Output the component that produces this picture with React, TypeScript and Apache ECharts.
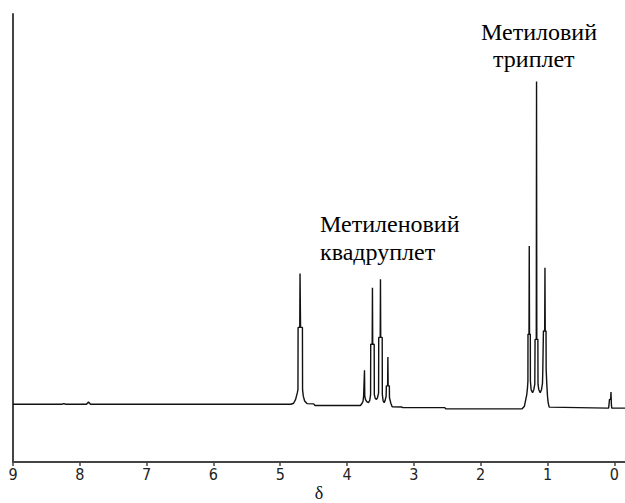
import React, { useEffect, useRef } from "react";
import * as echarts from "echarts";

// chemical shift (ppm) of each traced point of the spectrum, left to right
const delta = [
  9.0, 8.27, 8.24, 8.21, 7.9, 7.87, 7.84, 4.84,
  4.8, 4.77, 4.745, 4.735, 4.733, 4.708, 4.704, 4.7, 4.696, 4.668, 4.666, 4.655, 4.635, 4.6, 4.5, 4.48,
  3.82, 3.8, 3.775, 3.76, 3.752, 3.743, 3.739, 3.735, 3.725, 3.705, 3.68, 3.66, 3.648, 3.646, 3.624, 3.62,
  3.616, 3.594, 3.592, 3.578, 3.56, 3.545, 3.528, 3.526, 3.504, 3.5, 3.496, 3.474, 3.472, 3.46, 3.445,
  3.43, 3.415, 3.412, 3.393, 3.389, 3.385, 3.367, 3.365, 3.345, 3.325,
  3.18, 3.17, 2.54, 2.52, 1.4,
  1.38, 1.345, 1.325, 1.31, 1.3, 1.293, 1.292, 1.277, 1.273, 1.269, 1.257, 1.256, 1.245, 1.224, 1.205,
  1.19, 1.186, 1.168, 1.164, 1.16, 1.144, 1.142, 1.13, 1.109, 1.09, 1.075, 1.07, 1.062, 1.061, 1.042,
  1.038, 1.034, 1.022, 1.02, 1.012, 1.01, 1.0, 0.99, 0.975,
  0.1, 0.085, 0.078, 0.072, 0.054, 0.05, 0.046, 0.044, 0.038, -0.16,
];

// relative intensity at each traced point (tallest line = 100)
const intensity = [
  0, 0, 0.2, 0, 0, 0.7, 0, 0,
  0.3, 1.5, 3.5, 4.5, 23.8, 23.8, 40.5, 40.5, 23.8, 23.8, 4.5, 2.5, 1.0, 0.2, 0.1, -0.4,
  -0.4, -0.4, 0.3, 1.0, 2.6, 2.6, 10.5, 2.6, 1.5, 0.8, 0.5, 1.2, 3.0, 18.6, 18.6, 36.1,
  18.6, 18.6, 3.0, 1.8, 1.5, 2.0, 3.5, 20.7, 20.7, 38.7, 20.7, 20.7, 3.0, 1.0, 0.5,
  1.2, 2.5, 5.7, 5.7, 14.6, 5.7, 5.7, 2.0, 0.3, -0.8,
  -0.84, -1.05, -1.05, -1.45, -1.45,
  -1.4, -0.6, 1.5, 3.0, 5.0, 7.2, 21.7, 21.7, 49.0, 21.7, 21.7, 7.2, 4.5, 3.6, 4.5,
  6.2, 20.1, 20.1, 100, 20.1, 20.1, 6.2, 4.5, 3.6, 4.5, 6.5, 10.8, 10.8, 22.7, 22.7,
  42.3, 22.7, 22.7, 10.8, 10.8, 6.0, 2.5, 0.5, -0.9,
  -1.2, -1.2, 0.2, 1.5, 1.5, 3.8, 1.5, 0.0, -1.2, -1.2,
];

const tickValues = [9, 8, 7, 6, 5, 4, 3, 2, 1, 0];
const axisName = "δ";

const quartetLabel = ["Метиленовий", "квадруплет"];
const tripletLabel = ["Метиловий", "триплет"];

export default function App() {
  const ref = useRef<HTMLDivElement>(null);

  useEffect(() => {
    if (!ref.current) return;
    const chart = echarts.init(ref.current, undefined, { renderer: "svg", width: 625, height: 503 });
    const data = delta.map((d, i) => [d, intensity[i]]);
    const serif = '"Liberation Serif", "Times New Roman", serif';
    const textStyle = { font: `24px ${serif}`, fill: "#000", verticalAlign: "middle" };
    chart.setOption({
      animation: false,
      backgroundColor: "#fff",
      grid: {
        left: 13,
        right: 0,
        top: 14,
        bottom: 41,
        containLabel: false,
        outerBoundsMode: "none",
      },
      xAxis: {
        type: "value",
        inverse: true,
        min: -0.16,
        max: 9,
        name: axisName,
        nameLocation: "middle",
        nameGap: 24,
        nameMoveOverlap: false,
        nameTextStyle: { fontFamily: serif, fontSize: 18, lineHeight: 14, color: "#111" },
        axisLine: { onZero: false, lineStyle: { color: "#444", width: 2 } },
        axisTick: {
          show: true,
          customValues: tickValues,
          length: 4,
          lineStyle: { color: "#444", width: 1.5 },
        },
        axisLabel: {
          customValues: tickValues,
          margin: 4,
          fontFamily: '"Liberation Sans Narrow", "Arial Narrow", "DejaVu Sans Condensed", sans-serif',
          fontSize: 16,
          color: "#222",
        },
        splitLine: { show: false },
      },
      yAxis: {
        type: "value",
        min: -17.9,
        max: 120.9,
        axisLine: { show: true, onZero: false, lineStyle: { color: "#444", width: 2 } },
        axisTick: { show: false },
        axisLabel: { show: false },
        splitLine: { show: false },
      },
      series: [
        {
          type: "line",
          data,
          showSymbol: false,
          symbol: "none",
          lineStyle: { color: "#111", width: 1.4 },
          clip: true,
        },
      ],
      graphic: [
        { type: "text", x: 320, y: 224, style: { ...textStyle, text: quartetLabel[0] } },
        { type: "text", x: 320, y: 252, style: { ...textStyle, text: quartetLabel[1] } },
        { type: "text", x: 481, y: 32, style: { ...textStyle, text: tripletLabel[0] } },
        { type: "text", x: 493, y: 59, style: { ...textStyle, text: tripletLabel[1] } },
      ],
    });
    return () => chart.dispose();
  }, []);

  return <div ref={ref} style={{ width: 625, height: 503, position: "absolute", left: 0, top: 0 }} />;
}
